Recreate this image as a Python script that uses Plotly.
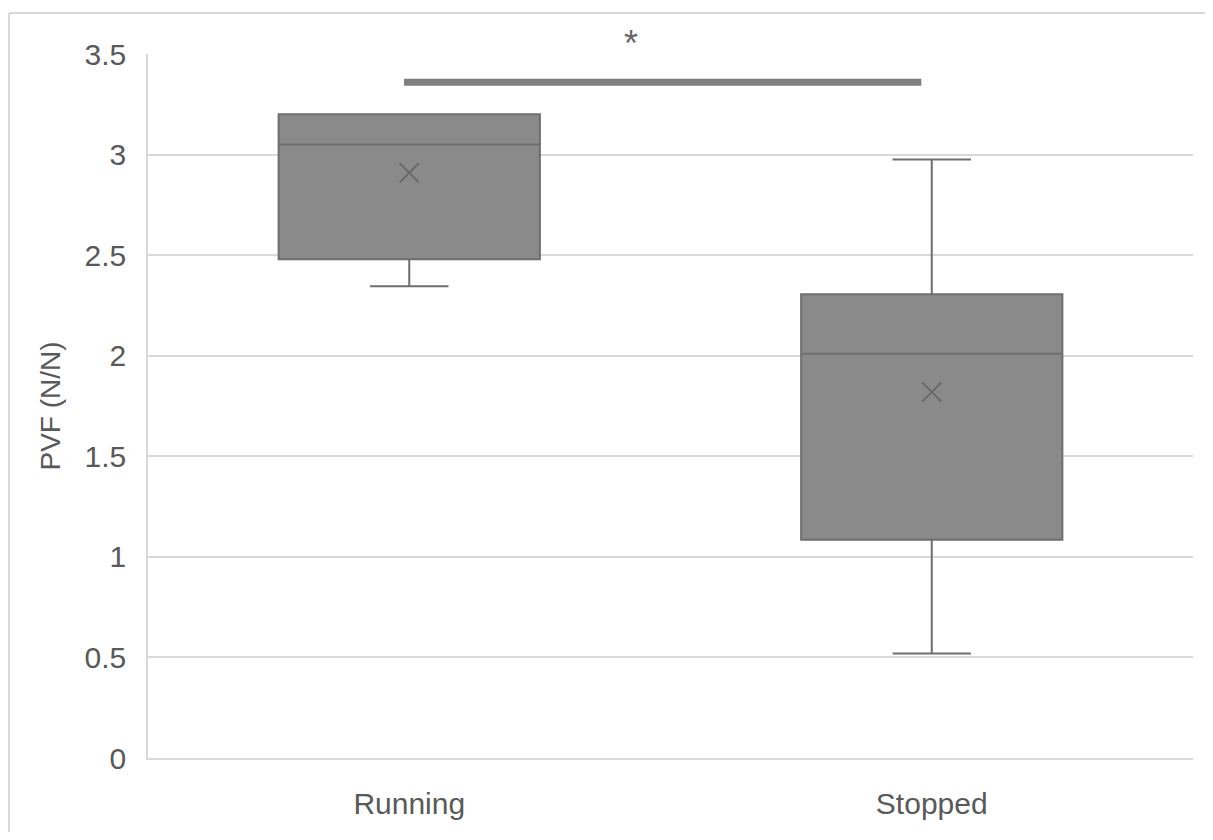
import plotly.graph_objects as go

categories = ["Running", "Stopped"]
q1 = [2.48, 1.085]
median = [3.05, 2.01]
q3 = [3.2, 2.305]
lower_whisker = [2.345, 0.52]
upper_whisker = [3.2, 2.975]
means = [2.91, 1.82]
sig_y = 3.36
sig_label = "*"
y_ticks = [0, 0.5, 1, 1.5, 2, 2.5, 3, 3.5]
y_ticklabels = ["0", "0.5", "1", "1.5", "2", "2.5", "3", "3.5"]

FONT = "Liberation Sans, Arial, sans-serif"
TXT = "#595959"

fig = go.Figure()
fig.add_trace(go.Box(
    x=categories, q1=q1, median=median, q3=q3,
    lowerfence=lower_whisker, upperfence=upper_whisker,
    boxpoints=False, width=0.5, whiskerwidth=0.3,
    fillcolor="#8a8a8a", line=dict(color="#6e6e6e", width=2),
    showlegend=False, hoverinfo="skip",
))
fig.add_trace(go.Scatter(
    x=categories, y=means, mode="markers",
    marker=dict(symbol="x-thin-open", size=19, color="#6a6a6a",
                line=dict(color="#6a6a6a", width=2)),
    showlegend=False, hoverinfo="skip",
))
# significance bar
fig.add_shape(type="line", xref="x", yref="y", x0=-0.01, x1=0.98, y0=sig_y, y1=sig_y,
              line=dict(color="#808080", width=7))
fig.add_annotation(x=0.425, xref="x", y=3.5, yref="y", yshift=11, text=sig_label, showarrow=False,
                   font=dict(family=FONT, size=36, color="#666666"))
# page offset of 8px (browser body margin); keep figure within viewport
W, H = 1197, 824
L, R, T, B = 140, 12, 46, 72
pw, ph = W - L - R, H - T - B
def px(x): return (x - L) / pw
def py(y): return (H - B - y) / ph
fig.add_shape(type="line", xref="paper", yref="paper", x0=px(1), x1=px(1), y0=py(5), y1=py(830),
              line=dict(color="#d9d9d9", width=2))
fig.add_shape(type="line", xref="paper", yref="paper", x0=px(1), x1=px(1200), y0=py(5), y1=py(5),
              line=dict(color="#d9d9d9", width=2))

fig.update_layout(
    width=W, height=H,
    margin=dict(l=L, r=R, t=T, b=B),
    paper_bgcolor="white", plot_bgcolor="white",
    font=dict(family=FONT, size=30, color=TXT),
    xaxis=dict(type="category", range=[-0.5, 1.5], showgrid=False,
               showline=True, linecolor="#d9d9d9", linewidth=1.5,
               ticks="", tickfont=dict(size=30, color=TXT), ticklabelstandoff=18),
    yaxis=dict(range=[0, 3.5], tickvals=y_ticks, ticktext=y_ticklabels,
               showgrid=True, gridcolor="#d9d9d9", gridwidth=1.5,
               showline=True, linecolor="#d9d9d9", linewidth=1.5, zeroline=False,
               ticks="", tickfont=dict(size=30, color=TXT), ticklabelstandoff=14,
               title=dict(text="PVF (N/N)", font=dict(size=28, color=TXT), standoff=16)),
)
fig.write_html("out.html")
